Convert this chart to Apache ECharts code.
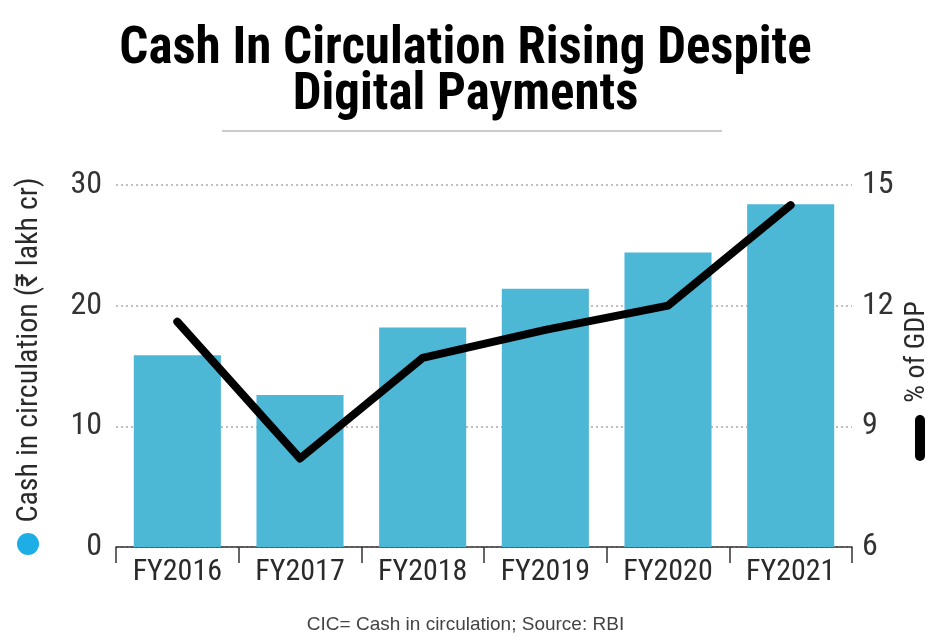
<!DOCTYPE html>
<html><head><meta charset="utf-8">
<script src="https://cdn.jsdelivr.net/npm/echarts@6/dist/echarts.min.js"></script>
<style>html,body{margin:0;padding:0;background:#fff}#c{width:931px;height:637px}</style>
</head><body><div id="c"></div>
<script>
const categories = ['FY2016','FY2017','FY2018','FY2019','FY2020','FY2021'];
const cashInCirculation = [15.9, 12.6, 18.2, 21.4, 24.4, 28.4];
const pctOfGDP = [11.6, 8.2, 10.7, 11.4, 12.0, 14.5];
const leftTicks = {min:0, max:30, interval:10};
const rightTicks = {min:6, max:15, interval:3};

const NARROW = '"Roboto Condensed","Liberation Sans Narrow","DejaVu Sans Condensed",sans-serif';
const chart = echarts.init(document.getElementById('c'));
chart.setOption({
  backgroundColor:'#fff',
  animation:false,
  grid:{left:116, right:79, top:185, bottom:90},
  xAxis:{type:'category', data:categories, boundaryGap:true,
    axisLine:{lineStyle:{color:'#333', width:1.5}},
    axisTick:{show:true, inside:false, length:16, lineStyle:{color:'#333', width:1.5}},
    axisLabel:{fontFamily:NARROW, fontSize:30, color:'#2a2a2a', margin:10, interval:0}
  },
  yAxis:[
    {type:'value', min:leftTicks.min, max:leftTicks.max, interval:leftTicks.interval,
     axisLine:{show:false}, axisTick:{show:false},
     axisLabel:{fontFamily:NARROW, fontSize:32, color:'#333', margin:14},
     splitLine:{show:true, lineStyle:{color:'#aaa', type:[2,3], width:1.5}}},
    {type:'value', min:rightTicks.min, max:rightTicks.max, interval:rightTicks.interval, position:'right',
     axisLine:{show:false}, axisTick:{show:false},
     axisLabel:{fontFamily:NARROW, fontSize:32, color:'#333', margin:10},
     splitLine:{show:false}}
  ],
  series:[
    {type:'bar', data:cashInCirculation, yAxisIndex:0, barCategoryGap:'29%',
     itemStyle:{color:'#4DB8D6'}},
    {type:'line', data:pctOfGDP, yAxisIndex:1, symbol:'none',
     lineStyle:{color:'#000', width:8, cap:'round', join:'round'}}
  ],
  graphic:[
    {type:'text', left:'center', top:25, style:{text:'Cash In Circulation Rising Despite\nDigital Payments',
      fontFamily:NARROW, fontWeight:'bold', fontSize:51, lineHeight:46, fill:'#000', textAlign:'center'}},
    {type:'line', shape:{x1:222, y1:131, x2:722, y2:131}, style:{stroke:'#ccc', lineWidth:2}},
    {type:'text', x:29, y:350, rotation:Math.PI/2, style:{text:'Cash in circulation (₹ lakh cr)',
      fontFamily:NARROW, fontSize:30, fill:'#2a2a2a', textAlign:'center', textVerticalAlign:'middle'}},
    {type:'circle', shape:{cx:28, cy:544, r:11}, style:{fill:'#1EAEE6'}},
    {type:'text', x:917, y:352, rotation:Math.PI/2, style:{text:'% of GDP',
      fontFamily:NARROW, fontSize:28, fill:'#2a2a2a', textAlign:'center', textVerticalAlign:'middle'}},
    {type:'rect', shape:{x:915, y:415, width:10, height:46, r:5}, style:{fill:'#000'}},
    {type:'text', left:'center', top:615, style:{text:'CIC= Cash in circulation; Source: RBI',
      fontFamily:'"Liberation Sans",Arial,sans-serif', fontSize:19, fill:'#444'}}
  ]
});
</script></body></html>
